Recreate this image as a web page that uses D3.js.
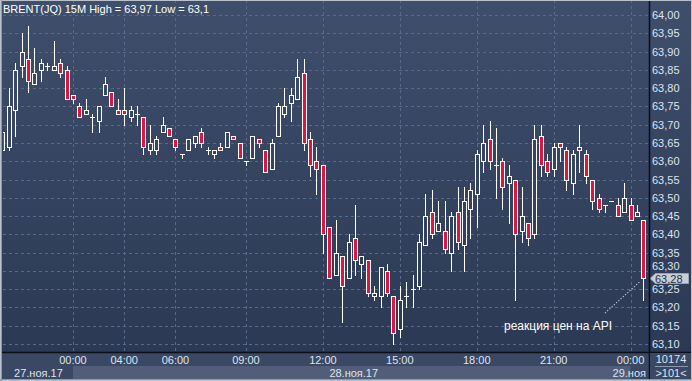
<!DOCTYPE html>
<html>
<head>
<meta charset="utf-8">
<script src="https://cdn.jsdelivr.net/npm/d3@7"></script>
<style>
  body { margin: 0; background: #2f3d58; }
  svg { display: block; }
  text { font-family: "Liberation Sans", Arial, sans-serif; font-size: 11px; }
</style>
</head>
<body>
<div id="chart"></div>
<script>
// 15M candles BRENT(JQ), 27-29 ноя 2017
var opens = [63.68,63.64,63.74,63.86,63.88,63.81,63.85,63.86,63.85,63.87,
  63.85,63.78,63.75,63.73,63.72,63.71,63.78,63.79,63.74,63.74,
  63.72,63.73,63.72,63.63,63.63,63.68,63.69,63.66,63.62,63.63,
  63.65,63.68,63.63,63.62,63.64,63.64,63.67,63.65,63.60,63.61,
  63.66,63.63,63.58,63.67,63.73,63.76,63.77,63.84,63.66,63.60,
  63.59,63.42,63.29,63.34,63.28,63.39,63.32,63.33,63.23,63.23,
  63.30,63.23,63.14,63.23,63.25,63.26,63.37,63.46,63.41,63.41,
  63.35,63.46,63.37,63.47,63.51,63.60,63.66,63.59,63.60,63.54,
  63.55,63.41,63.43,63.40,63.67,63.60,63.58,63.65,63.63,63.54,
  63.63,63.62,63.55,63.50,63.48,63.49,63.48,63.46,63.48,63.45,
  63.44];
var highs = [63.69,63.80,63.87,63.95,63.97,63.91,63.88,63.87,63.93,63.88,
  63.86,63.78,63.76,63.77,63.73,63.75,63.83,63.79,63.77,63.80,
  63.75,63.75,63.72,63.70,63.67,63.72,63.69,63.66,63.62,63.66,
  63.67,63.69,63.64,63.63,63.65,63.68,63.67,63.65,63.60,63.67,
  63.66,63.63,63.66,63.76,63.80,63.80,63.88,63.88,63.68,63.64,
  63.59,63.42,63.44,63.34,63.40,63.48,63.34,63.33,63.26,63.31,
  63.32,63.23,63.26,63.27,63.29,63.40,63.51,63.52,63.49,63.49,
  63.46,63.53,63.53,63.54,63.63,63.70,63.71,63.69,63.61,63.59,
  63.55,63.53,63.43,63.70,63.70,63.62,63.65,63.65,63.64,63.63,
  63.70,63.63,63.55,63.51,63.48,63.49,63.50,63.54,63.50,63.48,
  63.44];
var lows = [63.62,63.63,63.67,63.83,63.79,63.81,63.82,63.85,63.85,63.83,
  63.77,63.76,63.72,63.73,63.68,63.68,63.78,63.75,63.73,63.70,
  63.71,63.70,63.62,63.62,63.62,63.68,63.67,63.63,63.61,63.63,
  63.64,63.64,63.62,63.61,63.63,63.64,63.66,63.61,63.59,63.61,
  63.64,63.57,63.58,63.67,63.72,63.71,63.77,63.63,63.56,63.51,
  63.35,63.28,63.29,63.16,63.28,63.29,63.28,63.23,63.22,63.20,
  63.23,63.10,63.12,63.20,63.20,63.25,63.37,63.39,63.41,63.35,
  63.30,63.36,63.30,63.39,63.42,63.57,63.58,63.50,63.47,63.43,
  63.22,63.38,63.37,63.39,63.56,63.56,63.56,63.60,63.52,63.51,
  63.57,63.54,63.47,63.46,63.46,63.49,63.45,63.46,63.44,63.45,
  63.22];
var closes = [63.63,63.75,63.85,63.90,63.82,63.84,63.87,63.86,63.86,63.84,
  63.77,63.77,63.72,63.74,63.72,63.75,63.81,63.75,63.73,63.73,
  63.74,63.73,63.64,63.65,63.66,63.70,63.67,63.64,63.62,63.66,
  63.67,63.65,63.63,63.63,63.63,63.68,63.66,63.61,63.60,63.67,
  63.65,63.57,63.65,63.75,63.75,63.78,63.83,63.65,63.59,63.58,
  63.40,63.28,63.35,63.26,63.38,63.33,63.34,63.24,63.24,63.31,
  63.24,63.13,63.22,63.23,63.25,63.38,63.45,63.40,63.43,63.36,
  63.45,63.38,63.49,63.52,63.62,63.65,63.60,63.59,63.53,63.56,
  63.40,63.45,63.39,63.66,63.59,63.57,63.64,63.64,63.55,63.62,
  63.64,63.56,63.49,63.47,63.48,63.49,63.45,63.50,63.44,63.46,
  63.28];

var priceTicks = [64.00,63.95,63.90,63.85,63.80,63.75,63.70,63.65,63.60,63.55,
  63.50,63.45,63.40,63.35,63.30,63.25,63.20,63.15,63.10];
var timeTickIdx = [11, 19, 27, 38, 50, 62, 74, 86, 98];
var timeTickLabels = ["00:00","04:00","06:00","09:00","12:00","15:00","18:00","21:00","00:00"];
var dayStartIdx = [11, 98];
var dayLabels = ["27.ноя.17", "28.ноя.17", "29.ноя"];

var title = "BRENT(JQ) 15M High = 63,97 Low = 63,1";
var lastPrice = 63.28;
var barCount = "10174";
var visibleBars = ">101<";
var note = "реакция цен на API";

var width = 692, height = 381;
var plotRight = 649, plotBottom = 352, plotLeft = 3;

var fmt = function(v) { return d3.format(".2f")(v).replace(".", ","); };

var x = d3.scaleLinear().domain([0, opens.length - 1]).range([2.4, 643.4]);
var y = d3.scaleLinear().domain([63.10, 64.00]).range([344, 15]);

var svg = d3.select("#chart").append("svg")
  .attr("width", width)
  .attr("height", height);

var defs = svg.append("defs");
var grad = defs.append("linearGradient")
  .attr("id", "bg")
  .attr("gradientUnits", "userSpaceOnUse")
  .attr("x1", 0).attr("y1", 0).attr("x2", 0).attr("y2", plotBottom);
grad.append("stop").attr("offset", "0%").attr("stop-color", "#3f4e6b");
grad.append("stop").attr("offset", "100%").attr("stop-color", "#2b3954");

defs.append("clipPath").attr("id", "plotclip")
  .append("rect")
  .attr("x", plotLeft).attr("y", 0)
  .attr("width", plotRight - plotLeft).attr("height", plotBottom);

// backgrounds
svg.append("rect")
  .attr("x", 0).attr("y", 0)
  .attr("width", width).attr("height", plotBottom)
  .attr("fill", "url(#bg)");

svg.append("rect")
  .attr("x", 0).attr("y", plotBottom)
  .attr("width", width).attr("height", height - plotBottom)
  .attr("fill", "#3a4864");

// day bands on the date row
var bandEdges = [0].concat(dayStartIdx.map(function(d) { return x(d); })).concat([plotRight]);
dayLabels.forEach(function(lbl, i) {
  if (i % 2 == 1) {
    svg.append("rect")
      .attr("x", bandEdges[i]).attr("y", 366)
      .attr("width", bandEdges[i + 1] - bandEdges[i]).attr("height", height - 366)
      .attr("fill", "#525e78");
  }
});

// grid
var grid = svg.append("g")
  .attr("stroke", "#5a6987")
  .attr("stroke-width", 1)
  .attr("stroke-dasharray", "3,3");

grid.selectAll("line.h")
  .data(priceTicks)
  .enter().append("line")
  .attr("class", "h")
  .attr("x1", plotLeft).attr("x2", plotRight)
  .attr("y1", function(d) { return Math.round(y(d)) + 0.5; })
  .attr("y2", function(d) { return Math.round(y(d)) + 0.5; });

grid.selectAll("line.v")
  .data(timeTickIdx)
  .enter().append("line")
  .attr("class", "v")
  .attr("y1", 0).attr("y2", plotBottom)
  .attr("x1", function(d) { return Math.round(x(d)) + 0.5; })
  .attr("x2", function(d) { return Math.round(x(d)) + 0.5; });

// candles
var data = opens.map(function(o, i) {
  return { i: i, o: o, h: highs[i], l: lows[i], c: closes[i] };
});

var candles = svg.append("g")
  .attr("clip-path", "url(#plotclip)")
  .selectAll("g")
  .data(data)
  .enter().append("g")
  .attr("transform", function(d) { return "translate(" + (Math.round(x(d.i)) + 0.5) + ",0)"; });

candles.append("line")
  .attr("x1", 0).attr("x2", 0)
  .attr("y1", function(d) { return Math.round(y(d.h)); })
  .attr("y2", function(d) { return Math.round(y(d.l)) + 1; })
  .attr("stroke", "#ffffff")
  .attr("stroke-width", 1);

candles.filter(function(d) { return d.o != d.c; })
  .append("rect")
  .attr("x", -2)
  .attr("width", 4)
  .attr("y", function(d) { return Math.round(y(Math.max(d.o, d.c))) + 0.5; })
  .attr("height", function(d) { return Math.max(1, Math.round(y(Math.min(d.o, d.c))) - Math.round(y(Math.max(d.o, d.c)))); })
  .attr("fill", function(d) { return d.c < d.o ? "#e0143e" : "url(#bg)"; })
  .attr("stroke", "#ffffff")
  .attr("stroke-width", 1);

candles.filter(function(d) { return d.o == d.c; })
  .append("line")
  .attr("x1", -2.5).attr("x2", 2.5)
  .attr("y1", function(d) { return Math.round(y(d.o)) + 0.5; })
  .attr("y2", function(d) { return Math.round(y(d.o)) + 0.5; })
  .attr("stroke", "#ffffff")
  .attr("stroke-width", 1);

// annotation
var last = data[data.length - 1];
svg.append("line")
  .attr("x1", 605).attr("y1", 313)
  .attr("x2", x(last.i) - 3).attr("y2", y(last.c) + 3)
  .attr("stroke", "#b8c2d2")
  .attr("stroke-width", 1.2)
  .attr("stroke-dasharray", "1.2,1.8");

svg.append("text")
  .attr("x", 504).attr("y", 330)
  .attr("fill", "#ffffff")
  .style("font-size", "12px")
  .text(note);

// title
svg.append("text")
  .attr("x", 3).attr("y", 13)
  .attr("fill", "#ffffff")
  .text(title);

// price axis; the label next to the last price marker is lifted a little
var ly = Math.round(y(lastPrice));
svg.selectAll("text.price")
  .data(priceTicks)
  .enter().append("text")
  .attr("class", "price")
  .attr("x", 652)
  .attr("y", function(d) {
    var ty = y(d) + 4;
    if (Math.abs(y(d) - ly) < 9) ty = ly - 8;
    return ty;
  })
  .attr("fill", "#dde4ef")
  .text(fmt);

// last price marker
svg.append("path")
  .attr("d", "M650," + (ly + 0.5) + "L655.5," + (ly - 4.5) + "H688.5V" + (ly + 5.5) + "H655.5Z")
  .attr("fill", "#c9ced6")
  .attr("stroke", "#9aa3b2")
  .attr("stroke-width", 1);
svg.append("text")
  .attr("x", 655).attr("y", ly + 4.5)
  .attr("fill", "#22304a")
  .text(fmt(lastPrice));

// time axis
svg.selectAll("text.time")
  .data(timeTickIdx)
  .enter().append("text")
  .attr("class", "time")
  .attr("x", function(d) { return x(d); })
  .attr("y", 364)
  .attr("text-anchor", "middle")
  .attr("fill", "#dde4ef")
  .text(function(d, i) { return timeTickLabels[i]; });

dayLabels.forEach(function(lbl, i) {
  var last = i == dayLabels.length - 1;
  svg.append("text")
    .attr("x", last ? 646 : (bandEdges[i] + bandEdges[i + 1]) / 2 + 2)
    .attr("y", 377)
    .attr("text-anchor", last ? "end" : "middle")
    .attr("fill", "#dde4ef")
    .text(lbl);
});

// separators
svg.append("line")
  .attr("x1", 0).attr("x2", width)
  .attr("y1", plotBottom + 0.5).attr("y2", plotBottom + 0.5)
  .attr("stroke", "#0a0f1a").attr("stroke-width", 1.5);
svg.append("line")
  .attr("x1", plotRight + 0.5).attr("x2", plotRight + 0.5)
  .attr("y1", 0).attr("y2", height)
  .attr("stroke", "#0a0f1a").attr("stroke-width", 1.5);

// bar counters
svg.append("rect")
  .attr("x", plotRight + 1).attr("y", plotBottom + 1)
  .attr("width", width - plotRight - 1).attr("height", height - plotBottom - 1)
  .attr("fill", "#3a4864");
svg.append("text")
  .attr("x", 671).attr("y", 363)
  .attr("text-anchor", "middle")
  .attr("fill", "#dde4ef")
  .text(barCount);
svg.append("line")
  .attr("x1", 655).attr("x2", 688)
  .attr("y1", 366.5).attr("y2", 366.5)
  .attr("stroke", "#8c97aa");
svg.append("text")
  .attr("x", 671).attr("y", 377)
  .attr("text-anchor", "middle")
  .attr("fill", "#dde4ef")
  .text(visibleBars);

// frame
svg.append("rect")
  .attr("x", 0.5).attr("y", 0.5)
  .attr("width", width - 1).attr("height", height - 1)
  .attr("fill", "none")
  .attr("stroke", "#b9c1cc")
  .attr("stroke-width", 1);
svg.append("line")
  .attr("x1", 1.5).attr("x2", 1.5).attr("y1", 0).attr("y2", height)
  .attr("stroke", "#8f99a8");
svg.append("line")
  .attr("x1", 0).attr("x2", width).attr("y1", height - 1.5).attr("y2", height - 1.5)
  .attr("stroke", "#8f99a8");
</script>
</body>
</html>
